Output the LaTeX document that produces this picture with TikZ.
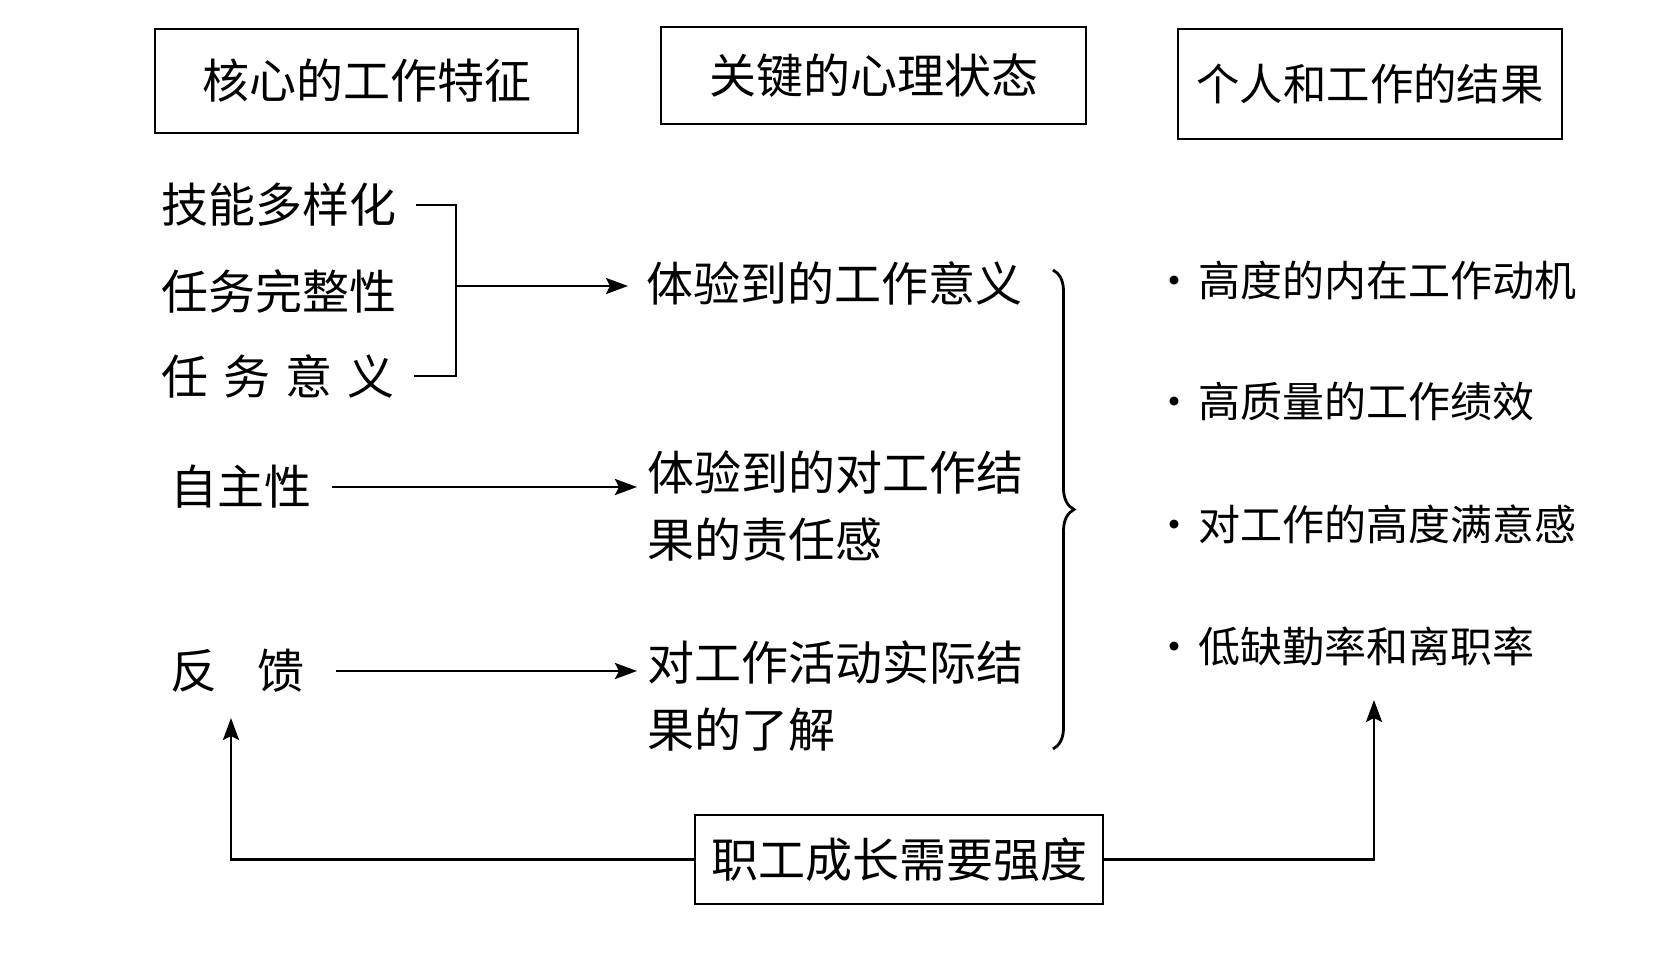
\documentclass[tikz,border=0pt]{standalone}
\usepackage{fontspec}
\setmainfont{Noto Sans CJK SC}
\usetikzlibrary{arrows.meta, decorations.pathreplacing}

\begin{document}
\begin{tikzpicture}[x=0.5pt, y=-0.5pt, line width=1.4pt,
		head/.style={draw, inner sep=0pt, font=\fontsize{23.5}{28}\selectfont},
		item/.style={anchor=west, inner sep=0pt, align=left, font=\fontsize{23.5}{33.5}\selectfont},
		result/.style={anchor=west, inner sep=0pt, font=\fontsize{21}{25}\selectfont},
		arr/.style={-{Stealth[length=11pt, width=8pt, inset=2pt]}}]
		\useasboundingbox (0,0) rectangle (1676,968);
		\node[head, minimum width=211.5pt, minimum height=52pt] (core) at (366.5,81) {核心的工作特征};
		\node[head, minimum width=212.5pt, minimum height=48.5pt] (state) at (873.5,75.5) {关键的心理状态};
		\node[head, minimum width=192pt, minimum height=55pt, font=\fontsize{21.7}{26}\selectfont] (outcome) at (1370,84) {个人和工作的结果};
		\node[item] (skill) at (160,205) {技能多样化};
		\node[item] (whole) at (160,291) {任务完整性};
		\node[item] (signif) at (160,376) {任\hspace{0.32em}务\hspace{0.32em}意\hspace{0.32em}义};
		\node[item] (auton) at (169,487) {自主性};
		\node[item] (feedb) at (169,671) {反\hspace{0.85em}馈};
		\node[item] (meaning) at (645,283) {体验到的工作意义};
		\node[item] (respons) at (646,506) {体验到的对工作结\\果的责任感};
		\node[item] (knowl) at (646,696) {对工作活动实际结\\果的了解};
		\foreach \txt [count=\i] in {高度的内在工作动机, 高质量的工作绩效, 对工作的高度满意感, 低缺勤率和离职率}
			\node[result] (res\i) at (1152,158+122*\i) {•\hspace{0.07em}\txt};
		\node[head, minimum width=204pt, minimum height=44.5pt] (growth) at (899,859.5) {职工成长需要强度};
		\coordinate (join) at (456,286);
		\coordinate (fbtip) at (231,718);
		\coordinate (restip) at (1374,700);
		\draw ([xshift=9pt]skill.east) -| (join) |- ([xshift=9pt]signif.east);
		\draw[arr, shorten >=8.5pt] (join) -- (join -| meaning.west);
		\draw[arr, shorten >=4.5pt] ([xshift=9.5pt]auton.east) -- (auton.east -| respons.west);
		\draw[arr, shorten >=4.5pt] ([xshift=15pt]feedb.east) -- (feedb.east -| knowl.west);
		\draw[decorate, decoration={brace, amplitude=10.5pt}] (1053,270) -- (1053,749);
		\draw[arr] (growth.west) -| (fbtip);
		\draw[arr] (growth.east) -| (restip);
	\end{tikzpicture}
\end{document}
